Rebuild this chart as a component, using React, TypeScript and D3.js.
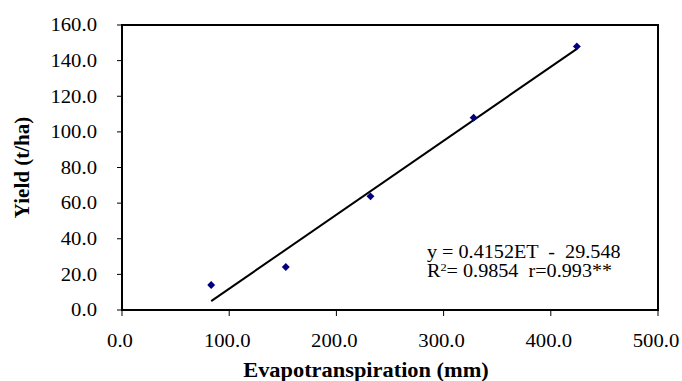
import React from "react";
import * as d3 from "d3";

const etValues = [83.2, 152.8, 231.8, 328.0, 424.3];
const yieldValues = [14.0, 24.1, 63.8, 108.0, 148.0];
const xTicks = [0, 100, 200, 300, 400, 500];
const yTicks = [0, 20, 40, 60, 80, 100, 120, 140, 160];
const slope = 0.4152;
const intercept = -29.548;
const eqLine1 = "y = 0.4152ET  -  29.548";
const eqLine2a = "R";
const eqLine2sup = "2";
const eqLine2b = "= 0.9854  r=0.993**";
const xTitle = "Evapotranspiration (mm)";
const yTitle = "Yield (t/ha)";

const W = 682;
const H = 381;
const margin = { left: 122, right: 24, top: 25, bottom: 71 };
const FONT = "Liberation Serif";
const SX = 1.12;

function SText(props: {
  x: number;
  y: number;
  size: number;
  anchor?: string;
  bold?: boolean;
  children: React.ReactNode;
  dy?: string;
}) {
  return (
    <text
      transform={`translate(${props.x},${props.y}) scale(${SX},1)`}
      fontFamily={FONT}
      fontSize={props.size}
      fontWeight={props.bold ? "bold" : "normal"}
      textAnchor={props.anchor || "start"}
      dy={props.dy}
      fill="#000"
      style={{ whiteSpace: "pre" }}
    >
      {props.children}
    </text>
  );
}

export default function App() {
  const x = d3.scaleLinear().domain([0, 500]).range([margin.left, W - margin.right]);
  const y = d3.scaleLinear().domain([0, 160]).range([H - margin.bottom, margin.top]);
  const [x0, x1] = d3.extent(etValues) as [number, number];
  const trend = d3.line<number>().x((d) => x(d)).y((d) => y(slope * d + intercept));
  const diamond = d3.symbol().type(d3.symbolDiamond2).size(40)();
  const plotRight = W - margin.right;
  const plotBottom = H - margin.bottom;

  return (
    <svg width={W} height={H} style={{ position: "absolute", left: 0, top: 0, background: "#fff" }}>
      <rect x={0} y={0} width={W} height={H} fill="#fff" />
      <rect
        x={margin.left}
        y={margin.top}
        width={plotRight - margin.left}
        height={plotBottom - margin.top}
        fill="none"
        stroke="#000"
        strokeWidth={2}
      />
      {yTicks.map((t) => (
        <g key={"y" + t}>
          <line x1={margin.left - 5} x2={margin.left} y1={y(t)} y2={y(t)} stroke="#000" strokeWidth={1} />
          <SText x={97} y={y(t)} dy="0.34em" size={18.5} anchor="end">
            {t.toFixed(1)}
          </SText>
        </g>
      ))}
      {xTicks.map((t) => (
        <g key={"x" + t}>
          <line x1={x(t)} x2={x(t)} y1={plotBottom} y2={plotBottom + 6} stroke="#000" strokeWidth={1} />
          <SText x={x(t) - 2} y={347} size={18.5} anchor="middle">
            {t.toFixed(1)}
          </SText>
        </g>
      ))}
      <path d={trend([x0, x1]) || ""} fill="none" stroke="#000" strokeWidth={2} />
      {etValues.map((v, i) => (
        <path
          key={"p" + i}
          d={diamond || ""}
          transform={`translate(${x(v)},${y(yieldValues[i])})`}
          fill="#000080"
        />
      ))}
      <SText x={427} y={258} size={18}>
        {eqLine1}
      </SText>
      <SText x={427} y={277} size={18}>
        {eqLine2a}
        <tspan dy={-6} fontSize={11}>{eqLine2sup}</tspan>
        <tspan dy={6}>{eqLine2b}</tspan>
      </SText>
      <SText x={366} y={377} size={20} anchor="middle" bold>
        {xTitle}
      </SText>
      <text
        transform={`translate(29,${(margin.top + plotBottom) / 2}) rotate(-90)`}
        textAnchor="middle"
        fontFamily={FONT}
        fontSize={21}
        fontWeight="bold"
        fill="#000"
      >
        {yTitle}
      </text>
    </svg>
  );
}
